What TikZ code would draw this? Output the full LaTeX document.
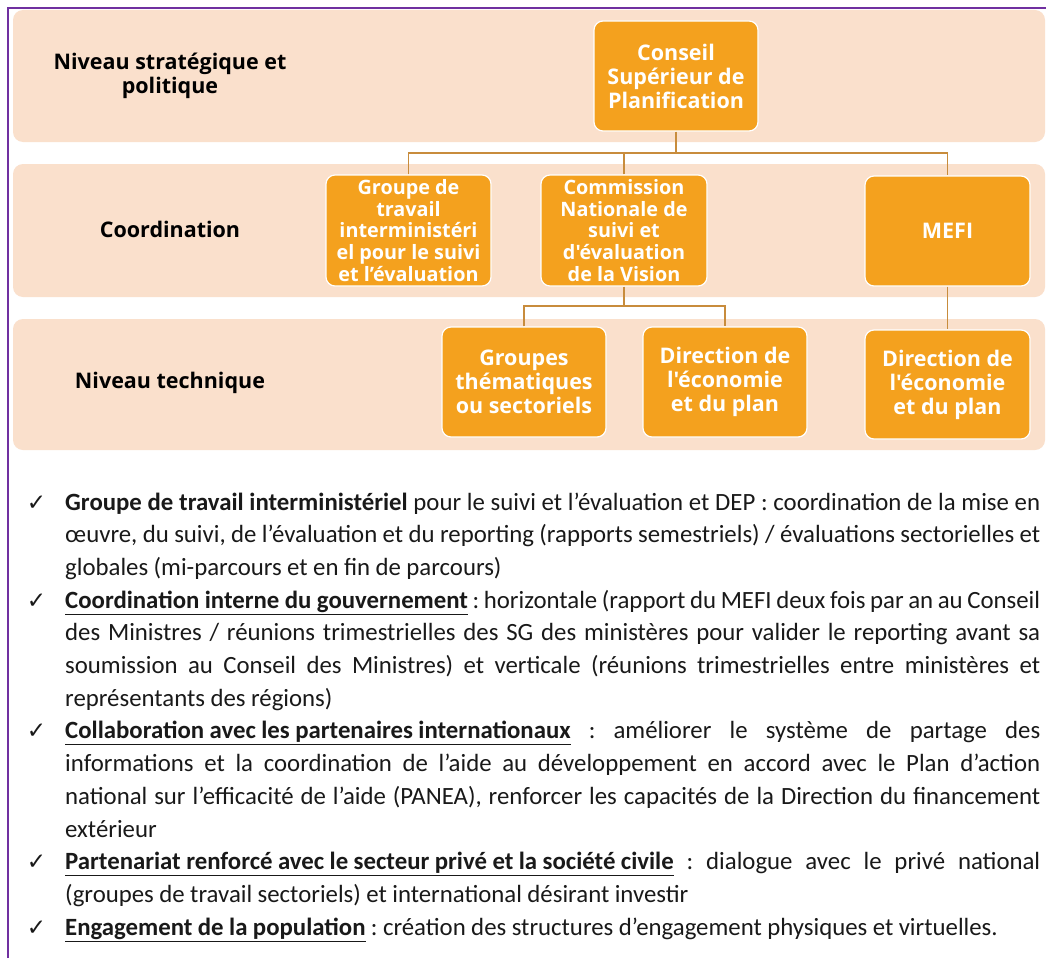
\documentclass[tikz,border=0pt]{standalone}
\usepackage{fontspec}
\setmainfont{Carlito}
\newfontfamily\boxfont{Open Sans}
\newfontfamily\symfont{DejaVu Sans}
\definecolor{bandc}{RGB}{250,224,204}
\definecolor{oboxc}{RGB}{244,161,30}
\definecolor{connc}{RGB}{200,140,60}
\definecolor{framec}{RGB}{112,48,160}
\newcommand\jl[1]{\par\hbox to 975pt{\spaceskip=0.22em plus 1fil minus 0.08em\xspaceskip=\spaceskip #1}}
\newcommand\lastl[1]{\par\hbox{\spaceskip=0.22em\xspaceskip=\spaceskip #1}}
\newcommand\chk{\llap{{\symfont\fontsize{23}{23}\selectfont ✓}\hspace{19pt}}}
\begin{document}
\begin{tikzpicture}[x=1pt,y=-1pt,
 bandbox/.style={fill=bandc, rounded corners=10pt, draw=none},
 lvl/.style={font=\boxfont\bfseries\fontsize{21.5}{24}\selectfont, align=center, text=black},
 obox/.style={fill=oboxc, draw=white, line width=1.2pt, rounded corners=9pt, text=white,
   font=\boxfont\bfseries\fontsize{21.5}{24}\selectfont, align=center, inner sep=0pt},
 smallbox/.style={obox, font=\boxfont\bfseries\fontsize{19.8}{21.7}\selectfont},
 conn/.style={draw=connc, line width=1.5pt}]
\useasboundingbox (0,0) rectangle (1046,958);
\fill[white] (0,0) rectangle (1046,958);
\draw[framec, line width=2pt] (8,958) -- (8,8) -- (1046,8);
% bands
\path[bandbox] (13,10) rectangle (1045,142);
\path[bandbox] (13,164) rectangle (1045,297);
\path[bandbox] (13,319) rectangle (1045,450);
% level labels
\node[lvl] (l1) at (170,76) {Niveau stratégique et\\politique};
\node[lvl] (l2) at (170,229) {Coordination};
\node[lvl] (l3) at (170,383) {Niveau technique};
% boxes
\node[obox, minimum width=164pt, minimum height=110pt] (csp) at (676,76) {Conseil\\Supérieur de\\Planification};
\node[smallbox, minimum width=165pt, minimum height=111pt] (grp) at (408.5,230.5) {Groupe de\\travail\\interministéri\\el pour le suivi\\et l’évaluation};
\node[smallbox, minimum width=166pt, minimum height=111pt] (com) at (624,230.5) {Commission\\Nationale de\\suivi et\\d'évaluation\\de la Vision};
\node[obox, minimum width=165pt, minimum height=110pt] (mefi) at (947.5,231) {MEFI};
\node[obox, minimum width=164pt, minimum height=110pt] (gt) at (524,382) {Groupes\\thématiques\\ou sectoriels};
\node[obox, minimum width=164pt, minimum height=110pt] (dir1) at (725,382) {Direction de\\l'économie\\et du plan};
\node[obox, minimum width=165pt, minimum height=109pt] (dir2) at (947.5,384.5) {Direction de\\l'économie\\et du plan};
% connectors
\coordinate (j1) at (676,153);
\coordinate (j2) at (624,306);
\draw[conn] (csp.south) -- (j1);
\draw[conn] (grp.north) -- (grp.north |- j1) -- (mefi.north |- j1) -- (mefi.north);
\draw[conn] (com.north) -- (com.north |- j1);
\draw[conn] (com.south) -- (j2);
\draw[conn] (gt.north) -- (gt.north |- j2) -- (dir1.north |- j2) -- (dir1.north);
\draw[conn] (mefi.south) -- (dir2.north);
% text
\node[anchor=base west, inner sep=0pt, text=black!90] (txt) at (65,510) {%
\vtop{\hsize=975pt\fontsize{24.8}{32.7}\selectfont
\jl{\chk\textbf{Groupe de travail interministériel} pour le suivi et l’évaluation et DEP : coordination de la mise en}
\jl{œuvre, du suivi, de l’évaluation et du reporting (rapports semestriels) / évaluations sectorielles et}
\lastl{globales (mi-parcours et en fin de parcours)}
\jl{\chk\underline{\textbf{Coordination interne du gouvernement}} : horizontale (rapport du MEFI deux fois par an au Conseil}
\jl{des Ministres / réunions trimestrielles des SG des ministères pour valider le reporting avant sa}
\jl{soumission au Conseil des Ministres) et verticale (réunions trimestrielles entre ministères et}
\lastl{représentants des régions)}
\jl{\chk\underline{\textbf{Collaboration avec les partenaires internationaux}} : améliorer le système de partage des}
\jl{informations et la coordination de l’aide au développement en accord avec le Plan d’action}
\jl{national sur l’efficacité de l’aide (PANEA), renforcer les capacités de la Direction du financement}
\lastl{extérieur}
\jl{\chk\underline{\textbf{Partenariat renforcé avec le secteur privé et la société civile}} : dialogue avec le privé national}
\lastl{(groupes de travail sectoriels) et international désirant investir}
\lastl{\chk\underline{\textbf{Engagement de la population}} : création des structures d’engagement physiques et virtuelles.}
}};
\end{tikzpicture}
\end{document}
